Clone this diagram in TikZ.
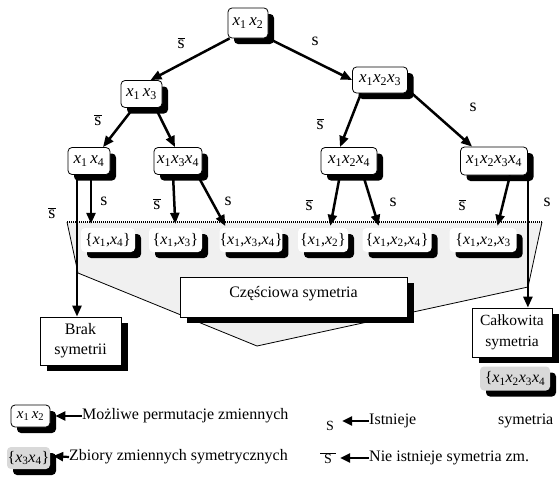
\documentclass[tikz,border=0pt]{standalone}
\usepackage{fontspec}
\setmainfont{Liberation Serif}
\usetikzlibrary{arrows.meta,shadows,calc}
\newcommand{\xv}[1]{\textit{x}\textsubscript{#1}}
\newcommand{\sbar}{\ensuremath{\overline{\mbox{s}}}}
\tikzset{
  treenode/.style={draw=black, line width=0.8pt, fill=white, rounded corners=4pt, inner sep=0pt,
    font=\fontsize{17}{19}\selectfont,
    drop shadow={shadow xshift=6pt, shadow yshift=-6pt, fill=black, opacity=1}},
  setnode/.style={fill=white, rounded corners=4pt, inner sep=0pt,
    drop shadow={shadow xshift=6pt, shadow yshift=-6pt, fill=black, opacity=1}},
  graynode/.style={fill=black!15, rounded corners=4pt, inner sep=0pt,
    drop shadow={shadow xshift=6pt, shadow yshift=-6pt, fill=black, opacity=1}},
  labelbox/.style={draw=black, line width=0.8pt, fill=white, inner sep=0pt, align=center,
    drop shadow={shadow xshift=7pt, shadow yshift=-6pt, fill=black, opacity=1}},
  arr/.style={line width=2.5pt, -{Triangle[length=11pt,width=9pt]}},
  legarr/.style={line width=2.2pt, -{Triangle[length=10pt,width=9pt]}},
  lab/.style={inner sep=0pt, font=\fontsize{18}{19}\selectfont}
}
\begin{document}
\begin{tikzpicture}[x=1pt,y=-1pt, every node/.style={font=\fontsize{16}{19}\selectfont}]
\fill[white] (0,0) rectangle (559,477);
\useasboundingbox (0,0) rectangle (559,477);

% funnel
\fill[black!6] (67,222) -- (542,222) -- (528,287) -- (257,346) -- (78,273) -- cycle;
\draw[line width=0.8pt] (67,222) -- (78,273) -- (257,346) -- (528,287) -- (542,222);
\draw[line width=1.5pt, dash pattern=on 1pt off 1pt] (67,222) -- (542,222);

% set nodes
\node[setnode, minimum width=54pt, minimum height=24pt] (s14) at (108,240) {\{\xv1,\xv4\}};
\node[setnode, minimum width=53pt, minimum height=24pt] (s13) at (175.5,240) {\{\xv1,\xv3\}};
\node[setnode, minimum width=62pt, minimum height=24pt] (s134) at (251,240) {\{\xv1,\xv3,\xv4\}};
\node[setnode, minimum width=50pt, minimum height=24pt] (s12) at (323,240) {\{\xv1,\xv2\}};
\node[setnode, minimum width=69pt, minimum height=24pt] (s124) at (397,240) {\{\xv1,\xv2,\xv4\}};
\node[setnode, minimum width=67pt, minimum height=24pt] (s123) at (483,240) {\{\xv1,\xv2,\xv3};

% result boxes
\node[labelbox, minimum width=227pt, minimum height=40pt, text height=12pt, text depth=12pt] (czes) at (293.5,297) {Częściowa symetria};
\node[labelbox, minimum width=81pt, minimum height=48pt, font=\fontsize{16}{20}\selectfont] (brak) at (80.5,341) {Brak\\symetrii};
\node[labelbox, minimum width=80pt, minimum height=49pt, font=\fontsize{15.5}{21}\selectfont] (calk) at (512,332.5) {Całkowita\\symetria};
\node[graynode, minimum width=70pt, minimum height=24pt] (g1234) at (515,378.5) {\{\xv1\xv2\xv3\xv4};

% tree nodes
\node[treenode, minimum width=40pt, minimum height=30pt] (n12) at (248,23) {\xv1\,\xv2};
\node[treenode, minimum width=41pt, minimum height=27pt] (n13) at (141.5,94) {\xv1\,\xv3};
\node[treenode, minimum width=55pt, minimum height=26pt] (n123) at (380,80) {\xv1\xv2\xv3};
\node[treenode, minimum width=42pt, minimum height=27pt] (n14) at (89,161) {\xv1\,\xv4};
\node[treenode, minimum width=48pt, minimum height=27pt] (n134) at (178,161) {\xv1\xv3\xv4};
\node[treenode, minimum width=56pt, minimum height=27pt] (n124) at (349,161) {\xv1\xv2\xv4};
\node[treenode, minimum width=67pt, minimum height=28pt] (n1234) at (494,161) {\xv1\xv2\xv3\xv4};

% connectors
\draw[arr] ($(n12.south west)+(2,0)$) -- ($(n13.north)+(9,0)$);
\draw[arr] (n12.south east) -- (n123.west);
\draw[arr] ($(n13.south)+(-8,0)$) -- ($(n14.north)+(14,0)$);
\draw[arr] ($(n13.south)+(14,0)$) -- ($(n134.north)+(-3,0)$);
\draw[arr] ($(n123.south)+(-19,0)$) -- ($(n124.north)+(-9,0)$);
\draw[arr] ($(n123.south east)+(4,0)$) -- ($(n1234.north west)+(12,0)$);

\coordinate (a1) at ($(n14.south)+(-12,0)$);
\draw[arr] (a1) -- (a1 |- brak.north);
\coordinate (a2) at ($(n14.south)+(2,0)$);
\draw[arr, shorten >=4pt] (a2) -- (a2 |- s14.north);
\draw[arr, shorten >=4pt] ($(n134.south)+(-5,0)$) -- (s13.north);
\draw[arr, shorten >=2pt] ($(n134.south east)+(-5,0)$) -- ($(s134.north west)+(7,0)$);
\draw[arr, shorten >=2pt] ($(n124.south)+(-9,0)$) -- ($(s12.north)+(7,0)$);
\draw[arr, shorten >=2pt] ($(n124.south)+(14,0)$) -- ($(s124.north west)+(17,0)$);
\draw[arr, shorten >=2pt] ($(n1234.south)+(16,0)$) -- ($(s123.north)+(14,0)$);
\coordinate (a3) at (n1234.south east);
\draw[arr] (a3) -- (a3 |- calk.north);

% edge labels
\node[lab] (l1) at (181,43) {\sbar};
\node[lab] (l2) at (315,41) {s};
\node[lab] (l3) at (98,120) {\sbar};
\node[lab] (l4) at (320,124) {\sbar};
\node[lab] (l5) at (473,107) {s};
\node[lab] (l6) at (52,213) {\sbar};
\node[lab] (l7) at (104,201) {s};
\node[lab] (l8) at (157,204) {\sbar};
\node[lab] (l9) at (228,201) {s};
\node[lab] (l10) at (309,205) {\sbar};
\node[lab] (l11) at (393,202) {s};
\node[lab] (l12) at (462,205) {\sbar};
\node[lab] (l13) at (547,202) {s};

% legend
\node[treenode, minimum width=39pt, minimum height=22pt, font=\fontsize{15}{17}\selectfont] (L1) at (30.5,416) {\xv1\,\xv2};
\node[anchor=west, inner sep=0pt] (t1) at (82,416) {Możliwe permutacje zmiennych};
\draw[legarr] (t1.west) -- ($(L1.east)+(5,0)$);

\node[graynode, minimum width=43pt, minimum height=22pt] (L2) at (28.5,458) {\{\xv3\xv4\}};
\node[anchor=west, inner sep=0pt] (t2) at (69,457) {Zbiory zmiennych symetrycznych};
\draw[legarr] (t2.west) -- ($(L2.east)+(3,-2)$);

\node[inner sep=0pt, font=\fontsize{14}{15}\selectfont] (ls) at (330,426) {S};
\node[anchor=west, inner sep=0pt] (t3) at (369,421) {Istnieje};
\node[anchor=west, inner sep=0pt] (t3b) at (498,421) {symetria};
\draw[legarr] (t3.west) -- ($(ls.east)+(8,-5)$);

\node[inner sep=0pt, font=\fontsize{14}{15}\selectfont] (lsb) at (328,458) {\ensuremath{\overline{\mbox{\hspace{4pt}S\hspace{4pt}}}}};
\node[anchor=west, inner sep=0pt] (t4) at (369,458) {Nie istnieje symetria zm.};
\draw[legarr] (t4.west) -- ($(lsb.east)+(4,0)$);
\end{tikzpicture}
\end{document}
